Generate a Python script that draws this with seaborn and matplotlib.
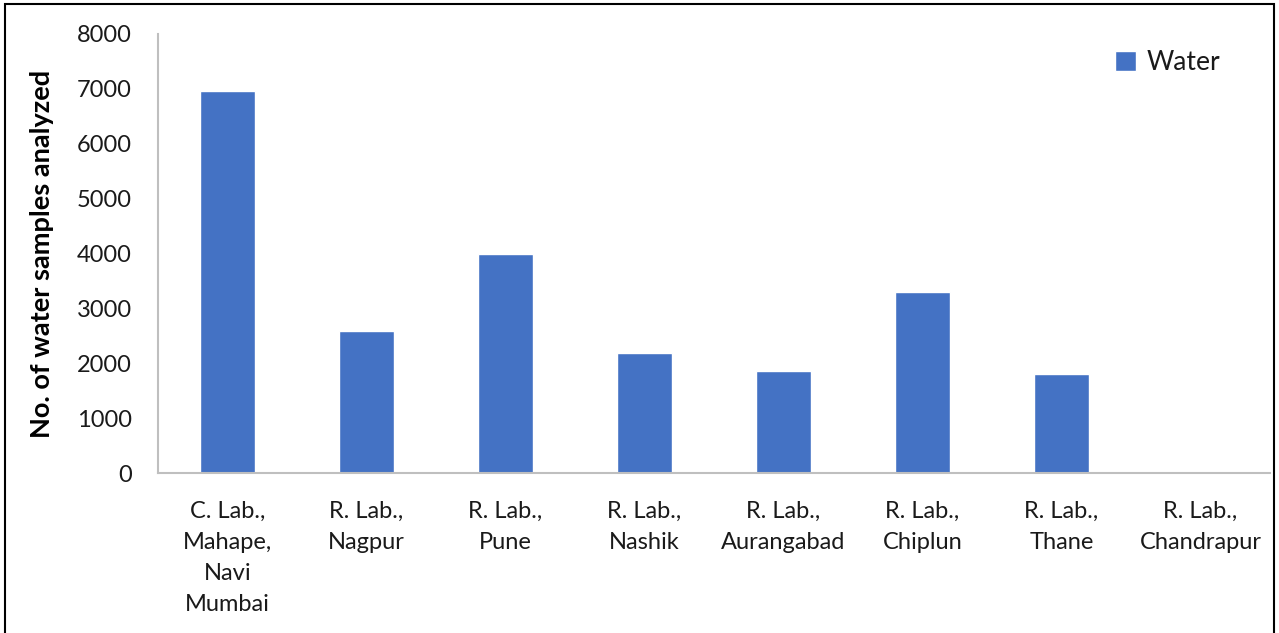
import matplotlib
matplotlib.use("Agg")
import matplotlib.pyplot as plt
import seaborn as sns
import pandas as pd
from matplotlib.patches import Rectangle

labs = [
    "C. Lab.,\nMahape,\nNavi\nMumbai",
    "R. Lab.,\nNagpur",
    "R. Lab.,\nPune",
    "R. Lab.,\nNashik",
    "R. Lab.,\nAurangabad",
    "R. Lab.,\nChiplun",
    "R. Lab.,\nThane",
    "R. Lab.,\nChandrapur",
]
water_samples = [6970, 2590, 3990, 2190, 1860, 3290, 1810, 0]
series = ["Water"] * len(labs)
y_ticks = [0, 1000, 2000, 3000, 4000, 5000, 6000, 7000, 8000]

sns.set_theme(style="white")
plt.rcParams["font.family"] = ["Lato", "DejaVu Sans"]

df = pd.DataFrame({"lab": labs, "samples": water_samples, "series": series})

fig = plt.figure(figsize=(12.79, 6.33), dpi=100)
ax = fig.add_axes([158 / 1279, 1 - 473 / 633, (1270 - 158) / 1279, (473 - 34) / 633])

sns.barplot(data=df, x="lab", y="samples", hue="series", palette=["#4472C4"],
            width=0.4, dodge=False, ax=ax, saturation=1)

ax.set_ylim(0, 8000)
ax.set_xlim(-0.5, len(labs) - 0.5)
ax.set_yticks(y_ticks)
ax.set_yticklabels([str(t) for t in y_ticks], fontsize=17, color="#1a1a1a")
ax.tick_params(axis="y", length=0, pad=19)
ax.tick_params(axis="x", length=0, pad=20)
for lbl in ax.get_xticklabels():
    lbl.set_fontsize(17)
    lbl.set_linespacing(1.6)
    lbl.set_color("#1a1a1a")
    lbl.set_multialignment("center")

ax.set_xlabel("")
ax.set_ylabel("No. of water samples analyzed", fontsize=19.5, fontweight="bold",
              color="black")
ax.yaxis.set_label_coords(-104 / 1112, 0.5)

for side in ["top", "right"]:
    ax.spines[side].set_visible(False)
for side in ["left", "bottom"]:
    ax.spines[side].set_color("#bfbfbf")
    ax.spines[side].set_linewidth(1.5)

leg = ax.legend(loc="upper left", bbox_to_anchor=(1115 / 1279, 1 - 50 / 633),
                bbox_transform=fig.transFigure, frameon=False, fontsize=19,
                handlelength=0.8, handleheight=0.8, handletextpad=0.4,
                borderpad=0, borderaxespad=0)
for t in leg.get_texts():
    t.set_color("#1a1a1a")

# outer frame around the figure
fig.patches.append(Rectangle((5 / 1279, -0.05), (1274 - 5) / 1279, 1.05 - 4 / 633,
                             transform=fig.transFigure, fill=False,
                             edgecolor="black", linewidth=1.5, zorder=10))

fig.savefig("out.png", dpi=100, facecolor="white")
